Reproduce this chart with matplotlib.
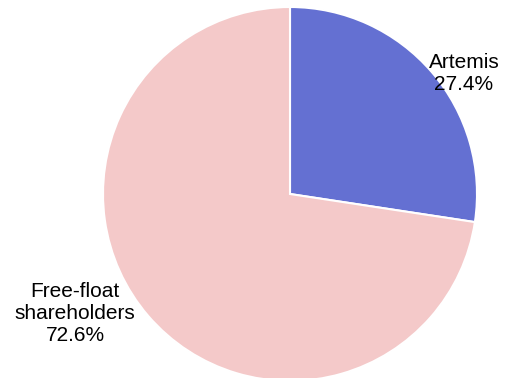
import matplotlib.pyplot as plt

labels = ["Artemis", "Free-float\nshareholders"]
shares = [27.4, 72.6]
colors = ["#6470d2", "#f4c9c9"]

W, H = 518, 378
fig = plt.figure(figsize=(W / 100, H / 100), dpi=100)
plt.rcParams["font.family"] = ["Liberation Sans", "DejaVu Sans"]

cx, cy, r = 290, 184, 187
ax = fig.add_axes([(cx - r) / W, (cy - r) / H, 2 * r / W, 2 * r / H])
ax.pie(shares, colors=colors, startangle=90, counterclock=False,
       wedgeprops={"edgecolor": "white", "linewidth": 1.5})
ax.set_xlim(-1, 1)
ax.set_ylim(-1, 1)
ax.set_aspect("equal")
ax.axis("off")

label_pos = [(0.93, 0.645), (-1.15, -0.64)]
for name, val, (x, y) in zip(labels, shares, label_pos):
    ax.text(x, y, f"{name}\n{val:.1f}%", ha="center", va="center",
            fontsize=15, linespacing=1.2, clip_on=False)

fig.savefig("out.png", dpi=100)
